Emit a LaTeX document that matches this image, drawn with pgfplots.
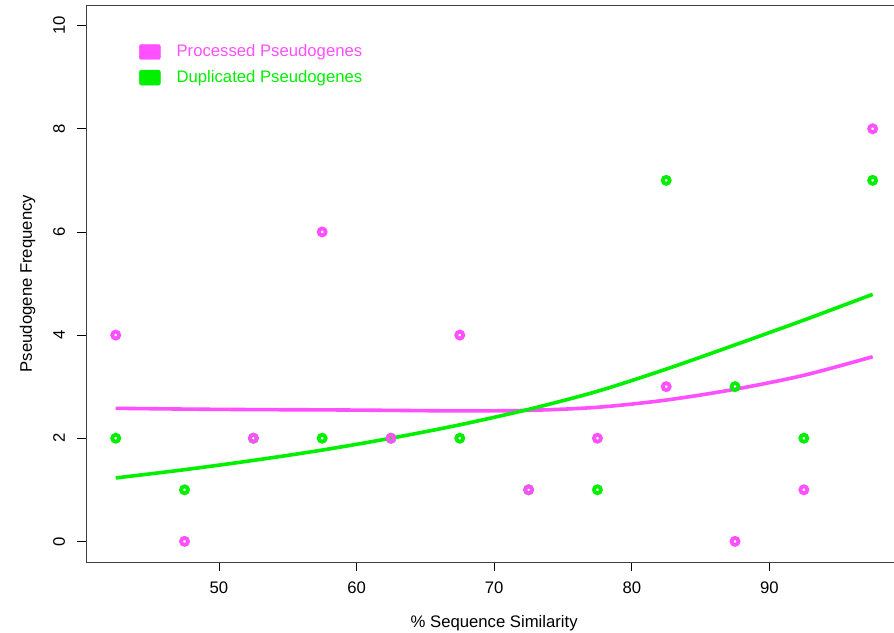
\documentclass[border=0pt]{standalone}
\usepackage{fontspec}
\setmainfont{Liberation Sans}
\usepackage{pgfplots}
\pgfplotsset{compat=1.18}
\definecolor{proc}{HTML}{FF50FF}
\definecolor{dupl}{HTML}{00F000}

\begin{document}
\fontsize{16.7bp}{20bp}\selectfont
\begin{tikzpicture}
\begin{axis}[scale only axis,width=808bp,height=557bp,
	at={(0,0)},anchor=south west,
	xmin=40.34,xmax=99.05,ymin=-0.4,ymax=10.4,
	xtick={50,60,70,80,90},ytick={0,2,4,6,8,10},
	axis x line=box,axis y line*=left,
	axis line style={line width=0.8bp,black!75},
	xtick pos=bottom,ytick pos=left,
	tick align=outside,major tick length=9bp,
	tick style={line width=0.8bp,black},
	/pgf/number format/assume math mode=true,
	xticklabel style={anchor=base,inner sep=0pt,yshift=-22bp},
	yticklabel style={anchor=base,inner sep=0pt,xshift=-12bp,rotate=90},
	clip=false,
	legend style={draw=none,fill=none,at={(rel axis cs:0,1)},anchor=north west,
		xshift=50bp,yshift=-35.5bp,row sep=7bp,
		nodes={inner sep=2bp,anchor=west}},
	legend cell align=left,
	legend image code/.code={\fill[rounded corners=2bp] (0bp,-7.5bp) rectangle (21bp,7.5bp);},
	]
\addlegendimage{proc,fill=proc}
\addlegendentry{\hspace{14bp}\textcolor{proc}{Processed Pseudogenes}}
\addlegendimage{dupl,fill=dupl}
\addlegendentry{\hspace{14bp}\textcolor{dupl}{Duplicated Pseudogenes}}

% points: duplicated first, processed on top
\addplot[only marks,mark=o,mark size=3.5bp,dupl,line width=3.8bp] coordinates {
(42.5,2) (47.5,1) (52.5,2) (57.5,2) (62.5,2) (67.5,2) (72.5,1) (77.5,1) (82.5,7) (87.5,3) (92.5,2) (97.5,7)};
\addplot[only marks,mark=o,mark size=3.5bp,proc,line width=3.8bp] coordinates {
(42.5,4) (47.5,0) (52.5,2) (57.5,6) (62.5,2) (67.5,4) (72.5,1) (77.5,2) (82.5,3) (87.5,0) (92.5,1) (97.5,8)};

% fitted curves
\addplot[proc,line width=3.6bp,smooth] coordinates {
(42.5,2.58) (47.5,2.565) (52.5,2.555) (57.5,2.55) (62.5,2.54) (67.5,2.53) (72.5,2.54) (77.5,2.60) (82.5,2.74) (87.5,2.95) (92.5,3.22) (97.5,3.58)};
\addplot[dupl,line width=3.6bp,smooth] coordinates {
(42.5,1.23) (47.5,1.39) (52.5,1.57) (57.5,1.77) (62.5,2.00) (67.5,2.26) (72.5,2.56) (77.5,2.91) (82.5,3.34) (87.5,3.81) (92.5,4.29) (97.5,4.79)};

\node[anchor=base,yshift=-65bp] at (axis cs:70,-0.4) {\% Sequence Similarity};
\node[xshift=-54bp,rotate=90,anchor=base] at (axis cs:40.34,5) {Pseudogene Frequency};
\end{axis}
\pgfresetboundingbox
\useasboundingbox (-86bp,-71bp) rectangle (808bp,562bp);
\end{tikzpicture}
\end{document}
